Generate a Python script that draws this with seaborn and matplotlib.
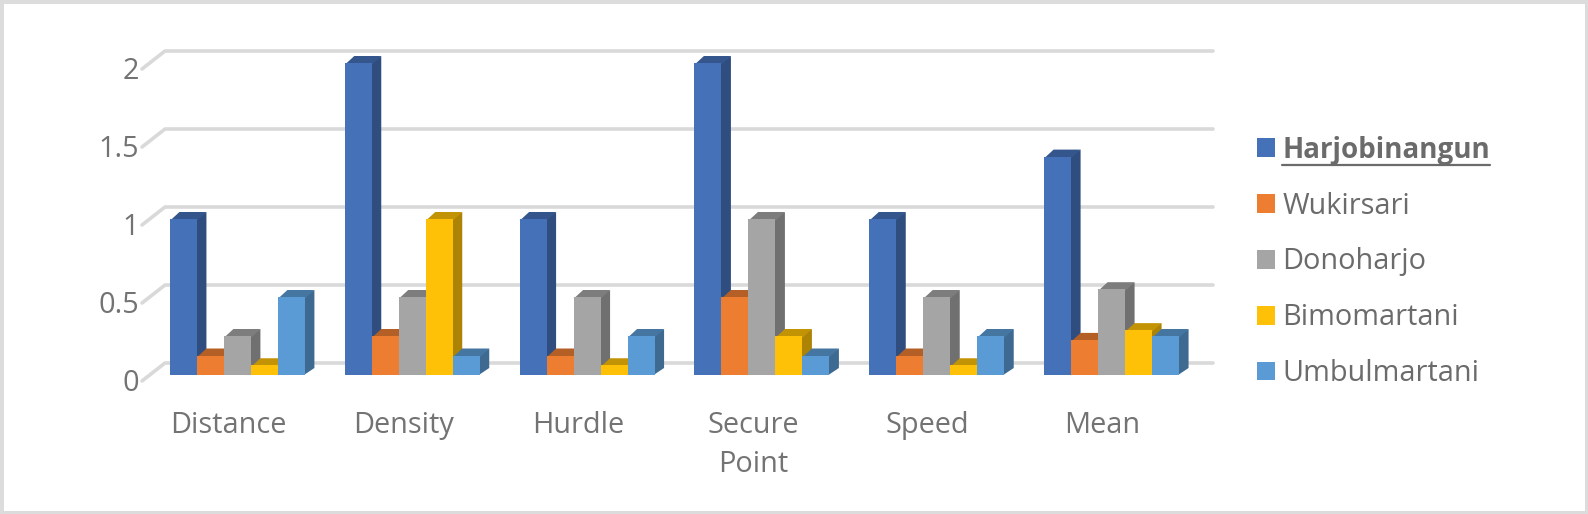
import matplotlib
matplotlib.use("Agg")
import matplotlib.pyplot as plt
from matplotlib.colors import to_rgb
from matplotlib.lines import Line2D
from matplotlib.patches import Polygon, Rectangle
from matplotlib.transforms import ScaledTranslation
import pandas as pd
import seaborn as sns

#==================
#Data
#==================
categories = ["Distance", "Density", "Hurdle", "Secure\nPoint", "Speed", "Mean"]
harjobinangun = [1, 2, 1, 2, 1, 1.4]
wukirsari = [0.125, 0.25, 0.125, 0.5, 0.125, 0.225]
donoharjo = [0.25, 0.5, 0.5, 1, 0.5, 0.55]
bimomartani = [0.0625, 1, 0.0625, 0.25, 0.0625, 0.2875]
umbulmartani = [0.5, 0.125, 0.25, 0.125, 0.25, 0.25]
y_ticks = [0, 0.5, 1, 1.5, 2]
y_labels = ["0", "0.5", "1", "1.5", "2"]
colors = ["#4571B9", "#ED7D31", "#A5A5A5", "#FFC107", "#5B9BD5"]

df = pd.DataFrame({
    "Harjobinangun": harjobinangun,
    "Wukirsari": wukirsari,
    "Donoharjo": donoharjo,
    "Bimomartani": bimomartani,
    "Umbulmartani": umbulmartani,
}, index=categories)
long_df = df.reset_index(names="Category").melt(
    id_vars="Category", var_name="Village", value_name="Score"
)

#==================
#Layout (pixels)
#==================
W, H = 1588, 514
BASE_Y = 375
PX_PER_UNIT = 156
LEFT, RIGHT = 150, 1199
GROUP_PX = (RIGHT - LEFT) / 6
TEXT = "#6b6b6b"
TICK_TEXT = "#737373"
GRID = "#d9d9d9"

sns.set_theme(style="white")
plt.rcParams["font.family"] = ["Open Sans", "DejaVu Sans"]

fig = plt.figure(figsize=(W / 100, H / 100), dpi=100, facecolor="white")
ax = fig.add_axes([LEFT / W, (H - BASE_Y) / H, (RIGHT - LEFT) / W, 2.2 * PX_PER_UNIT / H])

sns.barplot(
    data=long_df, x="Category", y="Score", hue="Village",
    palette=colors, width=0.772, gap=0, saturation=1, ax=ax,
    errorbar=None, linewidth=0
)
ax.set_xlim(-0.5, 5.5)
ax.set_ylim(0, 2.2)
ax.set_xlabel("")
ax.set_ylabel("")
ax.set_yticks(y_ticks, y_labels)
ax.tick_params(axis="both", length=0, labelsize=20.8, labelcolor=TICK_TEXT)
ax.tick_params(axis="x", pad=26)
ax.tick_params(axis="y", pad=8)
ax.patch.set_alpha(0)
sns.despine(ax=ax, left=True, bottom=True)

# Labels sit off their ticks in the original
for label in ax.get_yticklabels():
    label.set_transform(label.get_transform() + ScaledTranslation(0, -5 / 100, fig.dpi_scale_trans))
for label in ax.get_xticklabels():
    label.set_linespacing(1.46)
    label.set_transform(label.get_transform() + ScaledTranslation(-9 / 100, 0, fig.dpi_scale_trans))

#=====================
#3D look: walls and sides
#=====================
dx = 9.5 / GROUP_PX
dy = 7 / PX_PER_UNIT
seam = 1 / GROUP_PX  # side runs a pixel behind the front so no light line shows


def px_x(px):
    return -0.5 + (px - LEFT) / GROUP_PX


for v in y_ticks:
    back = v + 12 / PX_PER_UNIT
    ax.add_line(Line2D([px_x(142), px_x(165), px_x(1213)], [v - 6 / PX_PER_UNIT, back, back],
                       color=GRID, lw=2.6, clip_on=False, zorder=1))

bars = []
for container, color in zip(ax.containers, colors):
    for bar in container:
        bars.append((bar, color))
bars.sort(key=lambda item: item[0].get_x())

for i, (bar, color) in enumerate(bars):
    x0 = bar.get_x()
    x1 = x0 + bar.get_width()
    top = bar.get_height()
    rgb = to_rgb(color)
    side = tuple(c * 0.68 for c in rgb)
    lid = tuple(c * 0.76 for c in rgb)
    z = 3 + i * 0.01
    ax.add_patch(Polygon([(x1 - seam, 0), (x1 + dx, dy), (x1 + dx, top + dy), (x1 - seam, top)],
                         facecolor=side, lw=0, zorder=z, clip_on=False))
    ax.add_patch(Polygon([(x0, top - dy / 4), (x0 + dx, top + dy), (x1 + dx, top + dy), (x1, top - dy / 4)],
                         facecolor=lid, lw=0, zorder=z, clip_on=False))
    bar.set_zorder(z + 0.001)

#=====================
#Legend
#=====================
leg = ax.legend(
    title=None, frameon=False, fontsize=20.8, loc="center left",
    bbox_to_anchor=(1257 / W, (H - 262) / H), bbox_transform=fig.transFigure,
    handlelength=0.62, handleheight=0.62, handletextpad=0.25,
    labelspacing=0.93, borderpad=0, borderaxespad=0
)
for text in leg.get_texts():
    text.set_color(TEXT)
leg.get_texts()[0].set_fontweight("bold")
leg.get_texts()[0].set_fontsize(20)

# Legend text cannot be underlined directly, so draw it from the text box
fig.canvas.draw()
box = leg.get_texts()[0].get_window_extent()
fig.add_artist(Line2D([box.x0 / W, box.x1 / W], [box.y0 / H, box.y0 / H],
                      color=TEXT, lw=1.6))

fig.add_artist(Rectangle((0, 0), 1, 1, transform=fig.transFigure, fill=False,
                         edgecolor="#dcdcdc", lw=5))

fig.savefig("out.png", dpi=100)
